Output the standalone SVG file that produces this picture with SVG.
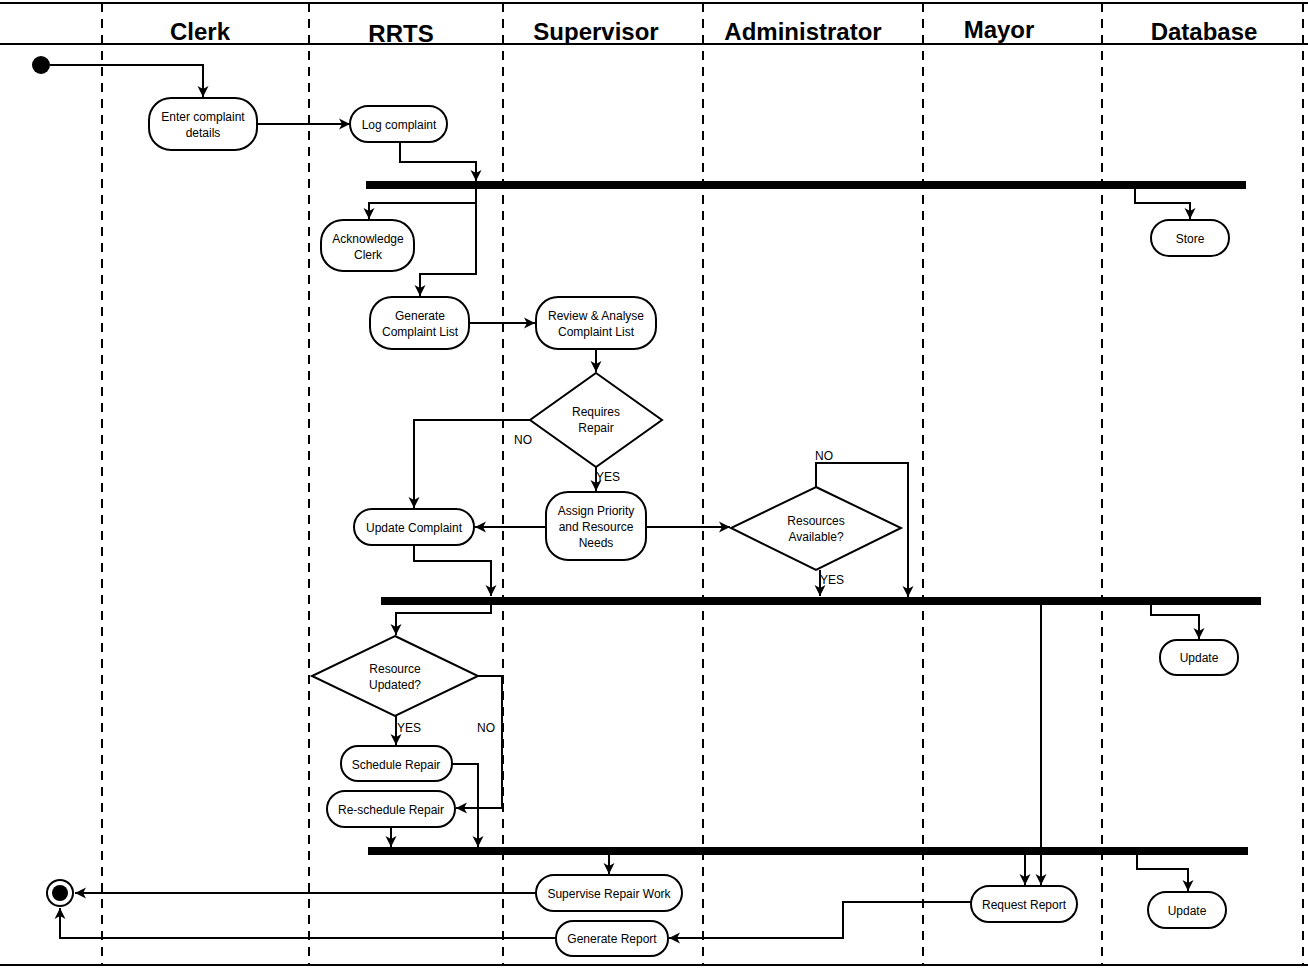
<svg xmlns="http://www.w3.org/2000/svg" width="1308" height="968" viewBox="0 0 1308 968">
<defs>
<marker id="arr" markerUnits="userSpaceOnUse" markerWidth="12" markerHeight="12" viewBox="0 0 12 12" refX="11" refY="6" orient="auto">
<path d="M0,0.5 L11,6 L0,11.5 L3,6 z" fill="#000"/>
</marker>
</defs>
<style>
.lane{stroke:#000;stroke-width:2;stroke-dasharray:9 7;fill:none}
.frame{stroke:#000;stroke-width:2;fill:none}
.hdr{font-family:"Liberation Sans",Arial,sans-serif;font-weight:bold;font-size:24px;text-anchor:middle;fill:#000}
.node{fill:#fff;stroke:#000;stroke-width:2}
.t{font-family:"Liberation Sans",Arial,sans-serif;font-size:12px;text-anchor:middle;fill:#000}
.lbl{font-family:"Liberation Sans",Arial,sans-serif;font-size:12px;fill:#000}
.c{fill:none;stroke:#000;stroke-width:2;marker-end:url(#arr)}
.bar{fill:#000}
</style>
<rect width="1308" height="968" fill="#fff"/>
<g id="frame">
<line class="frame" x1="0" y1="3" x2="1308" y2="3"/>
<line class="frame" x1="0" y1="44" x2="1308" y2="44"/>
<line class="frame" x1="0" y1="965" x2="1308" y2="965"/>
<line class="lane" x1="102" y1="3" x2="102" y2="965"/>
<line class="lane" x1="309" y1="3" x2="309" y2="965"/>
<line class="lane" x1="503" y1="3" x2="503" y2="965"/>
<line class="lane" x1="703" y1="3" x2="703" y2="965"/>
<line class="lane" x1="923" y1="3" x2="923" y2="965"/>
<line class="lane" x1="1102" y1="3" x2="1102" y2="965"/>
<line class="lane" x1="1303" y1="3" x2="1303" y2="965"/>
<text class="hdr" x="200" y="40">Clerk</text>
<text class="hdr" x="401" y="42">RRTS</text>
<text class="hdr" x="596" y="40">Supervisor</text>
<text class="hdr" x="803" y="40">Administrator</text>
<text class="hdr" x="999" y="38">Mayor</text>
<text class="hdr" x="1204" y="40">Database</text>
</g>
<g id="bars">
<rect class="bar" x="366" y="181" width="880" height="8"/>
<rect class="bar" x="381" y="597" width="880" height="8"/>
<rect class="bar" x="368" y="847" width="880" height="8"/>
</g>
<g id="connectors">
<path class="c" d="M50,65 H203 V97"/>
<path class="c" d="M257,124 H350"/>
<path class="c" d="M400,142 V162 H476 V181"/>
<path class="c" d="M476,189 V203 H369 V219"/>
<path class="c" d="M476,203 V274 H420 V296"/>
<path class="c" d="M1135,189 V203 H1190 V219"/>
<path class="c" d="M469,323 H535"/>
<path class="c" d="M596,349 V372"/>
<path class="c" d="M530,420 H414 V508"/>
<path class="c" d="M596,467 V491"/>
<path class="c" d="M546,527 H475"/>
<path class="c" d="M646,527 H730"/>
<path class="c" d="M816,487 V463 H908 V597"/>
<path class="c" d="M820,570 V596"/>
<path class="c" d="M414,545 V561 H491 V596"/>
<path class="c" d="M491,605 V613 H396 V635"/>
<path class="c" d="M1041,605 V885"/>
<path class="c" d="M1151,605 V615 H1199 V639"/>
<path class="c" d="M478,676 H502 V808 H456"/>
<path class="c" d="M396,716 V745"/>
<path class="c" d="M452,764 H478 V847"/>
<path class="c" d="M391,827 V847"/>
<path class="c" d="M609,855 V874"/>
<path class="c" d="M1025,855 V885"/>
<path class="c" d="M1137,855 V869 H1188 V891"/>
<path class="c" d="M536,893 H75"/>
<path class="c" d="M556,938 H60 V908"/>
<path class="c" d="M971,902 H843 V938 H669"/>
<text class="lbl" x="514" y="444">NO</text>
<text class="lbl" x="596" y="481">YES</text>
<text class="lbl" x="815" y="460">NO</text>
<text class="lbl" x="820" y="584">YES</text>
<text class="lbl" x="397" y="732">YES</text>
<text class="lbl" x="477" y="732">NO</text>
</g>
<g id="start"><circle cx="41" cy="65" r="9" fill="#000"/></g>
<g id="end"><circle cx="60" cy="893" r="13" fill="#fff" stroke="#000" stroke-width="2"/><circle cx="60" cy="893" r="8" fill="#000"/></g>
<g id="enter"><rect class="node" x="149" y="98" width="108" height="52" rx="22"/><text class="t" x="203" y="121">Enter complaint</text><text class="t" x="203" y="137">details</text></g>
<g id="log"><rect class="node" x="350" y="106" width="97" height="36" rx="18"/><text class="t" x="399" y="129">Log complaint</text></g>
<g id="ack"><rect class="node" x="321" y="220" width="93" height="51" rx="22"/><text class="t" x="368" y="243">Acknowledge</text><text class="t" x="368" y="259">Clerk</text></g>
<g id="store"><rect class="node" x="1151" y="220" width="78" height="36" rx="18"/><text class="t" x="1190" y="243">Store</text></g>
<g id="genlist"><rect class="node" x="370" y="297" width="99" height="52" rx="22"/><text class="t" x="420" y="320">Generate</text><text class="t" x="420" y="336">Complaint List</text></g>
<g id="review"><rect class="node" x="536" y="297" width="120" height="52" rx="22"/><text class="t" x="596" y="320">Review &amp; Analyse</text><text class="t" x="596" y="336">Complaint List</text></g>
<g id="requires"><polygon class="node" points="596,373 662,420 596,467 530,420"/><text class="t" x="596" y="416">Requires</text><text class="t" x="596" y="432">Repair</text></g>
<g id="assign"><rect class="node" x="546" y="492" width="100" height="68" rx="22"/><text class="t" x="596" y="515">Assign Priority</text><text class="t" x="596" y="531">and Resource</text><text class="t" x="596" y="547">Needs</text></g>
<g id="updcomp"><rect class="node" x="354" y="509" width="120" height="36" rx="18"/><text class="t" x="414" y="532">Update Complaint</text></g>
<g id="resavail"><polygon class="node" points="816,487 901,528 816,570 731,528"/><text class="t" x="816" y="525">Resources</text><text class="t" x="816" y="541">Available?</text></g>
<g id="update1"><rect class="node" x="1160" y="640" width="78" height="35" rx="17"/><text class="t" x="1199" y="662">Update</text></g>
<g id="resupd"><polygon class="node" points="395,636 478,676 395,716 312,676"/><text class="t" x="395" y="673">Resource</text><text class="t" x="395" y="689">Updated?</text></g>
<g id="sched"><rect class="node" x="341" y="746" width="111" height="35" rx="17"/><text class="t" x="396" y="769">Schedule Repair</text></g>
<g id="resched"><rect class="node" x="327" y="791" width="128" height="36" rx="18"/><text class="t" x="391" y="814">Re-schedule Repair</text></g>
<g id="supervise"><rect class="node" x="536" y="875" width="146" height="36" rx="18"/><text class="t" x="609" y="898">Supervise Repair Work</text></g>
<g id="genreport"><rect class="node" x="556" y="921" width="112" height="35" rx="17"/><text class="t" x="612" y="943">Generate Report</text></g>
<g id="request"><rect class="node" x="971" y="886" width="106" height="36" rx="18"/><text class="t" x="1024" y="909">Request Report</text></g>
<g id="update2"><rect class="node" x="1148" y="892" width="78" height="36" rx="18"/><text class="t" x="1187" y="915">Update</text></g>
</svg>
